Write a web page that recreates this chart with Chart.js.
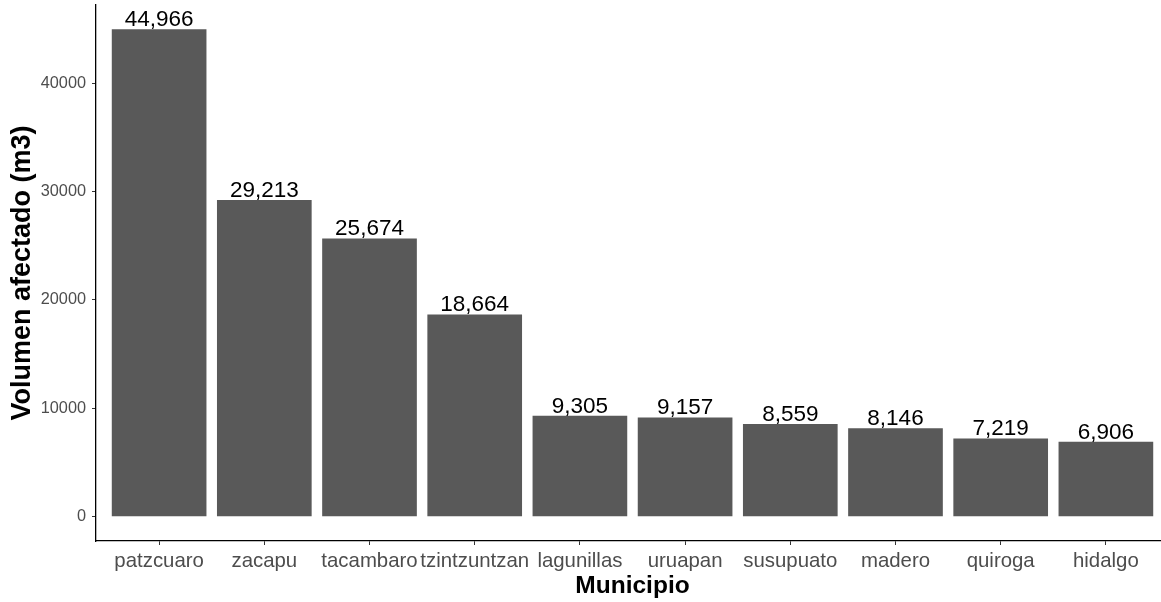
<!DOCTYPE html>
<html>
<head>
<meta charset="utf-8">
<script src="https://cdn.jsdelivr.net/npm/chart.js@4"></script>
<style>
  html, body { margin: 0; padding: 0; background: #fff; overflow: hidden; }
</style>
</head>
<body>
<canvas id="chart" width="1175" height="602"></canvas>
<script>
const categories = ["patzcuaro", "zacapu", "tacambaro", "tzintzuntzan", "lagunillas",
  "uruapan", "susupuato", "madero", "quiroga", "hidalgo"];
const volumes = [44966, 29213, 25674, 18664, 9305, 9157, 8559, 8146, 7219, 6906];
const yTicks = [0, 10000, 20000, 30000, 40000];

const FONT = "'Liberation Sans', Arial, sans-serif";

// value labels on top of each bar
const barLabels = {
  id: "barLabels",
  afterDatasetsDraw(chart) {
    const ctx = chart.ctx;
    const meta = chart.getDatasetMeta(0);
    ctx.save();
    ctx.font = "22.5px " + FONT;
    ctx.fillStyle = "#000";
    ctx.textAlign = "center";
    ctx.textBaseline = "alphabetic";
    meta.data.forEach((bar, i) => {
      ctx.fillText(volumes[i].toLocaleString("en-US"), bar.x, bar.y - 3);
    });
    ctx.restore();
  },
};

const ctx = document.getElementById("chart").getContext("2d");
new Chart(ctx, {
  type: "bar",
  data: {
    datasets: [
      {
        data: categories.map((c, i) => ({ x: i + 1, y: volumes[i] })),
        backgroundColor: "#595959",
        borderWidth: 0,
        barPercentage: 0.9,
        categoryPercentage: 1.0,
      },
    ],
  },
  options: {
    responsive: false,
    animation: false,
    layout: { padding: { top: 5, right: 6, bottom: 0, left: 0 } },
    plugins: {
      legend: { display: false },
      tooltip: { enabled: false },
    },
    scales: {
      x: {
        type: "linear",
        min: 0.4,
        max: 10.6,
        offset: false,
        afterBuildTicks: (axis) => {
          axis.ticks = categories.map((c, i) => ({ value: i + 1 }));
        },
        afterFit: (axis) => {
          axis.height = 61;
          axis.paddingLeft = 0;
          axis.paddingRight = 0;
        },
        grid: { offset: false, drawOnChartArea: false, drawTicks: true, tickLength: 4, color: "#333333" },
        border: { color: "#000", width: 1.3 },
        ticks: {
          autoSkip: false,
          maxRotation: 0,
          padding: 4,
          color: "#4d4d4d",
          font: { family: FONT, size: 20.4 },
          callback: (v) => categories[v - 1],
        },
        title: {
          display: true,
          text: "Municipio",
          color: "#000",
          font: { family: FONT, size: 24.5, weight: "bold" },
          padding: { top: 0, bottom: 1 },
        },
      },
      y: {
        min: -2248,
        max: 47214,
        afterBuildTicks: (axis) => {
          axis.ticks = yTicks.map((v) => ({ value: v }));
        },
        afterFit: (axis) => {
          axis.width = 96;
          axis.paddingTop = 0;
          axis.paddingBottom = 0;
        },
        grid: { drawOnChartArea: false, drawTicks: true, tickLength: 4, color: "#333333" },
        border: { color: "#000", width: 1.3 },
        ticks: {
          padding: 6,
          color: "#4d4d4d",
          font: { family: FONT, size: 16.3 },
          callback: (v) => String(v),
        },
        title: {
          display: true,
          text: "Volumen afectado (m3)",
          color: "#000",
          font: { family: FONT, size: 27, weight: "bold" },
          padding: { top: 6, bottom: 0 },
        },
      },
    },
  },
  plugins: [barLabels],
});
</script>
</body>
</html>
